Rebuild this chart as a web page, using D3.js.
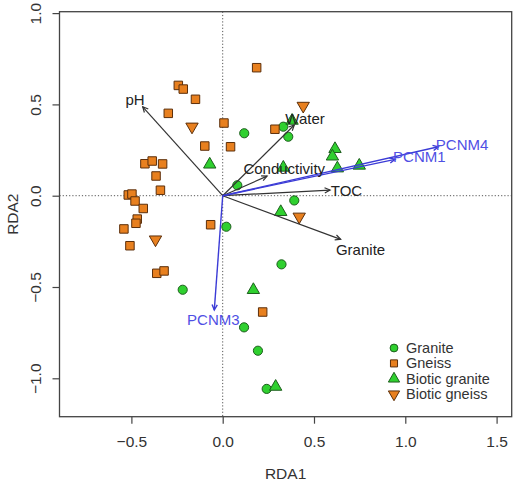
<!DOCTYPE html>
<html>
<head>
<meta charset="utf-8">
<script src="https://cdn.jsdelivr.net/npm/d3@7"></script>
<style>
  body { margin: 0; background: #fff; }
  text { font-family: "Liberation Sans", Arial, sans-serif; }
</style>
</head>
<body>
<div id="chart"></div>
<script>
// site scores, [RDA1, RDA2]
const granite = [[0.118,0.342],[0.080,0.057],[0.020,-0.170],[0.332,0.378],[0.359,0.323],
  [0.392,-0.026],[0.322,-0.376],[-0.219,-0.515],[0.117,-0.721],[0.193,-0.849],[0.241,-1.058]]
const gneiss = [[0.186,0.701],[-0.243,0.604],[-0.216,0.584],[-0.149,0.528],[-0.298,0.451],
  [0.007,0.398],[-0.098,0.272],[0.043,0.268],[0.286,0.364],[-0.426,0.175],[-0.386,0.190],
  [-0.329,0.174],[-0.365,0.108],[-0.341,0.030],[-0.517,0.004],[-0.497,0.009],[-0.480,-0.029],
  [-0.435,-0.070],[-0.468,-0.128],[-0.475,-0.151],[-0.541,-0.182],[-0.508,-0.274],
  [-0.066,-0.159],[-0.361,-0.425],[-0.321,-0.412],[0.219,-0.637]]
const bioticGranite = [[-0.071,0.171],[0.380,0.411],[0.615,0.256],[0.601,0.215],[0.628,0.150],
  [0.748,0.165],[0.332,0.154],[0.318,-0.089],[0.168,-0.516],[0.290,-1.046]]
const bioticGneiss = [[-0.168,0.378],[0.441,0.492],[-0.368,-0.240],[0.419,-0.115]]

// environmental arrows
const envNames = ["pH", "Water", "Conductivity", "TOC", "Granite"]
const envTips = [[-0.438,0.487],[0.392,0.387],[0.243,0.107],[0.588,0.031],[0.646,-0.239]]
const envLabels = [[-0.480,0.528],[0.451,0.424],[0.337,0.151],[0.678,0.031],[0.755,-0.297]]

// spatial (PCNM) arrows
const pcnmNames = ["PCNM1", "PCNM4", "PCNM3"]
const pcnmTips = [[0.944,0.199],[1.181,0.268],[-0.046,-0.626]]
const pcnmLabels = [[1.077,0.214],[1.311,0.283],[-0.051,-0.677]]

const xTicks = [-0.5, 0.0, 0.5, 1.0, 1.5]
const yTicks = [-1.0, -0.5, 0.0, 0.5, 1.0]
const legendNames = ["Granite", "Gneiss", "Biotic granite", "Biotic gneiss"]

const width = 515
const height = 482
const margin = {top: 11.7, left: 59.5, right: 3.3, bottom: 65.3}

const green = "#2fd02f", greenEdge = "#1d5e1d"
const orange = "#e8801f", orangeEdge = "#5c2f0b"
const envCol = "#333333", blue = "#3b3bd6", blueText = "#4f4fe4"

const svg = d3.select("#chart").append("svg")
    .attr("width", width)
    .attr("height", height)

const x = d3.scaleLinear().domain([-0.8937, 1.5827])
    .range([margin.left, width - margin.right])
const y = d3.scaleLinear().domain([-1.2103, 1.0077])
    .range([height - margin.bottom, margin.top])

// axes
const xAxis = svg.append("g")
    .attr("transform", `translate(0, ${height - margin.bottom})`)
    .call(d3.axisBottom(x).tickValues(xTicks).tickSize(7).tickFormat(d3.format(".1f")))
const yAxis = svg.append("g")
    .attr("transform", `translate(${margin.left}, 0)`)
    .call(d3.axisLeft(y).tickValues(yTicks).tickSize(7).tickFormat(d3.format(".1f")))
;[xAxis, yAxis].forEach(g => {
    g.select(".domain").remove()
    g.selectAll("line").attr("stroke", "#444").attr("stroke-width", 1.2)
    g.selectAll("text").attr("fill", "#333").style("font-size", "15.5px")
        .style("font-family", "Liberation Sans, Arial, sans-serif")
})
xAxis.selectAll("text").attr("y", 24.5).attr("dy", "0.35em")
yAxis.selectAll(".tick text")
    .attr("x", 0).attr("y", 0).attr("dy", null)
    .attr("text-anchor", "middle")
    .attr("dominant-baseline", "central")
    .attr("transform", `translate(${35 - margin.left}, 0) rotate(-90)`)

svg.append("text").attr("x", (x.range()[0] + x.range()[1]) / 2).attr("y", 473)
    .attr("text-anchor", "middle").attr("dominant-baseline", "central")
    .attr("fill", "#333").style("font-size", "15.5px").text("RDA1")
svg.append("text")
    .attr("transform", `translate(12, ${(y.range()[0] + y.range()[1]) / 2}) rotate(-90)`)
    .attr("text-anchor", "middle").attr("dominant-baseline", "central")
    .attr("fill", "#333").style("font-size", "15.5px").text("RDA2")

// zero lines
const plot = svg.append("g")
plot.append("line").attr("x1", x(0)).attr("x2", x(0))
    .attr("y1", y.range()[1]).attr("y2", y.range()[0])
    .attr("stroke", "#555").attr("stroke-dasharray", "1.2,2")
plot.append("line").attr("y1", y(0)).attr("y2", y(0))
    .attr("x1", x.range()[0]).attr("x2", x.range()[1])
    .attr("stroke", "#555").attr("stroke-dasharray", "1.2,2")

// points
const sym = {
    circle: d3.symbol().type(d3.symbolCircle).size(66),
    square: d3.symbol().type(d3.symbolSquare).size(72),
    tri: d3.symbol().type(d3.symbolTriangle).size(66)
}
const groups = [
    {data: granite, shape: "circle", fill: green, stroke: greenEdge, rot: 0},
    {data: gneiss, shape: "square", fill: orange, stroke: orangeEdge, rot: 0},
    {data: bioticGranite, shape: "tri", fill: green, stroke: greenEdge, rot: 0},
    {data: bioticGneiss, shape: "tri", fill: orange, stroke: orangeEdge, rot: 180}
]
groups.forEach(g => {
    plot.append("g").selectAll("path").data(g.data).enter().append("path")
        .attr("d", sym[g.shape])
        .attr("transform", d => `translate(${x(d[0])}, ${y(d[1])}) rotate(${g.rot})`)
        .attr("fill", g.fill)
        .attr("stroke", g.stroke)
        .attr("stroke-width", 1)
})

// arrows
function arrow(g, tip, col, w) {
    const x0 = x(0), y0 = y(0), x1 = x(tip[0]), y1 = y(tip[1])
    const a = Math.atan2(y1 - y0, x1 - x0)
    const len = 6, spread = Math.PI / 7
    g.append("line").attr("x1", x0).attr("y1", y0).attr("x2", x1).attr("y2", y1)
        .attr("stroke", col).attr("stroke-width", w)
    const head = d3.path()
    head.moveTo(x1 - len * Math.cos(a - spread), y1 - len * Math.sin(a - spread))
    head.lineTo(x1, y1)
    head.lineTo(x1 - len * Math.cos(a + spread), y1 - len * Math.sin(a + spread))
    g.append("path").attr("d", head.toString())
        .attr("fill", "none").attr("stroke", col).attr("stroke-width", w)
}
const arrows = svg.append("g")
envTips.forEach(t => arrow(arrows, t, envCol, 1.2))
pcnmTips.forEach(t => arrow(arrows, t, blue, 1.4))

arrows.selectAll("text.env").data(envNames).enter().append("text")
    .attr("class", "env")
    .attr("x", (d, i) => x(envLabels[i][0]))
    .attr("y", (d, i) => y(envLabels[i][1]))
    .attr("text-anchor", "middle").attr("dominant-baseline", "central")
    .attr("fill", "#222").style("font-size", "15px")
    .text(d => d)
arrows.selectAll("text.pcnm").data(pcnmNames).enter().append("text")
    .attr("class", "pcnm")
    .attr("x", (d, i) => x(pcnmLabels[i][0]))
    .attr("y", (d, i) => y(pcnmLabels[i][1]))
    .attr("text-anchor", "middle").attr("dominant-baseline", "central")
    .attr("fill", blueText).style("font-size", "15px")
    .text(d => d)

// box
svg.append("rect")
    .attr("x", x.range()[0]).attr("y", y.range()[1])
    .attr("width", x.range()[1] - x.range()[0])
    .attr("height", y.range()[0] - y.range()[1])
    .attr("fill", "none").attr("stroke", "#444").attr("stroke-width", 1.3)

// legend
const legSym = [
    {shape: d3.symbolCircle, size: 48, fill: green, stroke: greenEdge, rot: 0},
    {shape: d3.symbolSquare, size: 50, fill: orange, stroke: orangeEdge, rot: 0},
    {shape: d3.symbolTriangle, size: 55, fill: green, stroke: greenEdge, rot: 0},
    {shape: d3.symbolTriangle, size: 55, fill: orange, stroke: orangeEdge, rot: 180}
]
const legend = svg.append("g").attr("transform", "translate(394, 348)")
const items = legend.selectAll("g").data(legendNames).enter().append("g")
    .attr("transform", (d, i) => `translate(0, ${i * 15.4})`)
items.append("path")
    .attr("d", (d, i) => d3.symbol().type(legSym[i].shape).size(legSym[i].size)())
    .attr("transform", (d, i) => `rotate(${legSym[i].rot})`)
    .attr("fill", (d, i) => legSym[i].fill)
    .attr("stroke", (d, i) => legSym[i].stroke)
items.append("text").attr("x", 12).attr("dominant-baseline", "central")
    .attr("fill", "#333").style("font-size", "14.5px")
    .text(d => d)
</script>
</body>
</html>
